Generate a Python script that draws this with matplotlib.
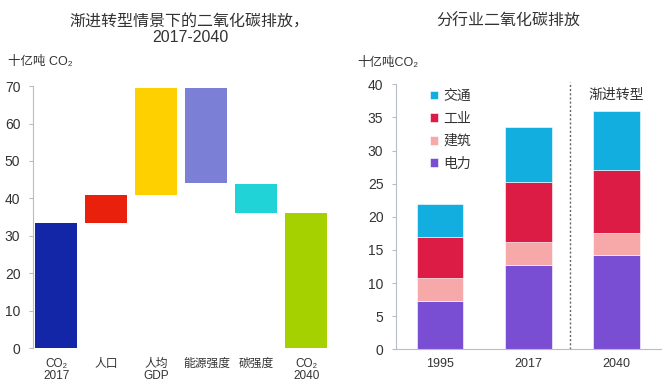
import matplotlib.pyplot as plt

plt.rcParams['font.family'] = ['Liberation Sans', 'Noto Sans CJK SC', 'DejaVu Sans']

# 左图：渐进转型情景下的二氧化碳排放（瀑布图）
wf_labels = ['CO₂\n2017', '人口', '人均\nGDP', '能源强度', '碳强度', 'CO₂\n2040']
wf_bottom = [0, 33.4, 41.0, 44.1, 36.1, 0]
wf_top = [33.4, 40.9, 69.4, 69.4, 43.9, 36.1]
wf_colors = ['#1326a8', '#e8200c', '#ffd000', '#7b7fd6', '#1fd3d6', '#a6d100']

# 右图：分行业二氧化碳排放（堆积柱）
years = ['1995', '2017', '2040']
power = [7.3, 12.7, 14.2]      # 电力
building = [3.4, 3.5, 3.4]     # 建筑
industry = [6.2, 9.1, 9.5]     # 工业
transport = [5.0, 8.2, 8.9]    # 交通
sectors = ['电力', '建筑', '工业', '交通']
sector_colors = ['#7a4ed2', '#f7a8a8', '#dc1c44', '#12aee0']

txt = '#333333'
gray = '#b8bcc4'

fig = plt.figure(figsize=(6.71, 3.88), dpi=100)

# ---------- 左图 ----------
ax1 = fig.add_axes([0.049, 0.103, 0.445, 0.675])
xs = range(len(wf_labels))
heights = [t - b for t, b in zip(wf_top, wf_bottom)]
ax1.bar(xs, heights, bottom=wf_bottom, width=0.84, color=wf_colors)
ax1.set_xlim(-0.47, 5.5)
ax1.set_ylim(0, 70)
ax1.set_yticks(range(0, 71, 10))
ax1.set_xticks(list(xs))
ax1.set_xticklabels(wf_labels, fontsize=8.5, color=txt, linespacing=1.0)
ax1.tick_params(axis='x', length=0, pad=7)
ax1.tick_params(axis='y', labelsize=10, colors=gray, labelcolor=txt, length=3, pad=6)
for s in ['top', 'right', 'bottom']:
    ax1.spines[s].set_visible(False)
ax1.spines['left'].set_color(gray)
fig.text(0.283, 0.965, '渐进转型情景下的二氧化碳排放，\n2017-2040', ha='center', va='top',
         fontsize=11.5, color=txt, linespacing=1.15)
fig.text(0.012, 0.84, '十亿吨 CO₂', fontsize=9, color=txt, va='center')

# ---------- 右图 ----------
ax2 = fig.add_axes([0.590, 0.0997, 0.395, 0.683])
xr = range(len(years))
bottom = [0, 0, 0]
handles = []
for vals, c, name in zip([power, building, industry, transport], sector_colors, sectors):
    h = ax2.bar(xr, vals, bottom=bottom, width=0.53, color=c, edgecolor='white', linewidth=0.4, label=name)
    handles.append(h)
    bottom = [b + v for b, v in zip(bottom, vals)]
ax2.set_xlim(-0.5, 2.5)
ax2.set_ylim(0, 40)
ax2.set_yticks(range(0, 41, 5))
ax2.set_xticks(list(xr))
ax2.set_xticklabels(years, fontsize=9, color=txt)
ax2.tick_params(axis='x', length=0, pad=6)
ax2.tick_params(axis='y', labelsize=10, colors=gray, labelcolor=txt, length=3, pad=6)
for s in ['top', 'right']:
    ax2.spines[s].set_visible(False)
ax2.spines['left'].set_color(gray)
ax2.spines['bottom'].set_color(gray)
ax2.axvline(1.47, ymin=0, ymax=1.01, color='#666666', linestyle=(0, (1.5, 1.5)), linewidth=1, clip_on=False)
ax2.text(1.99, 38.4, '渐进转型', ha='center', va='center', fontsize=10, color=txt)
leg = ax2.legend(handles[::-1], sectors[::-1], loc='upper left', bbox_to_anchor=(0.08, 1.03),
                 frameon=False, fontsize=10, handlelength=0.6, handleheight=0.6,
                 handletextpad=0.4, labelspacing=0.62)
for t in leg.get_texts():
    t.set_color(txt)
fig.text(0.757, 0.965, '分行业二氧化碳排放', ha='center', va='top', fontsize=11.5, color=txt)
fig.text(0.532, 0.838, '十亿吨CO₂', fontsize=9, color=txt, va='center')

fig.savefig('out.png', dpi=100, facecolor='white')
